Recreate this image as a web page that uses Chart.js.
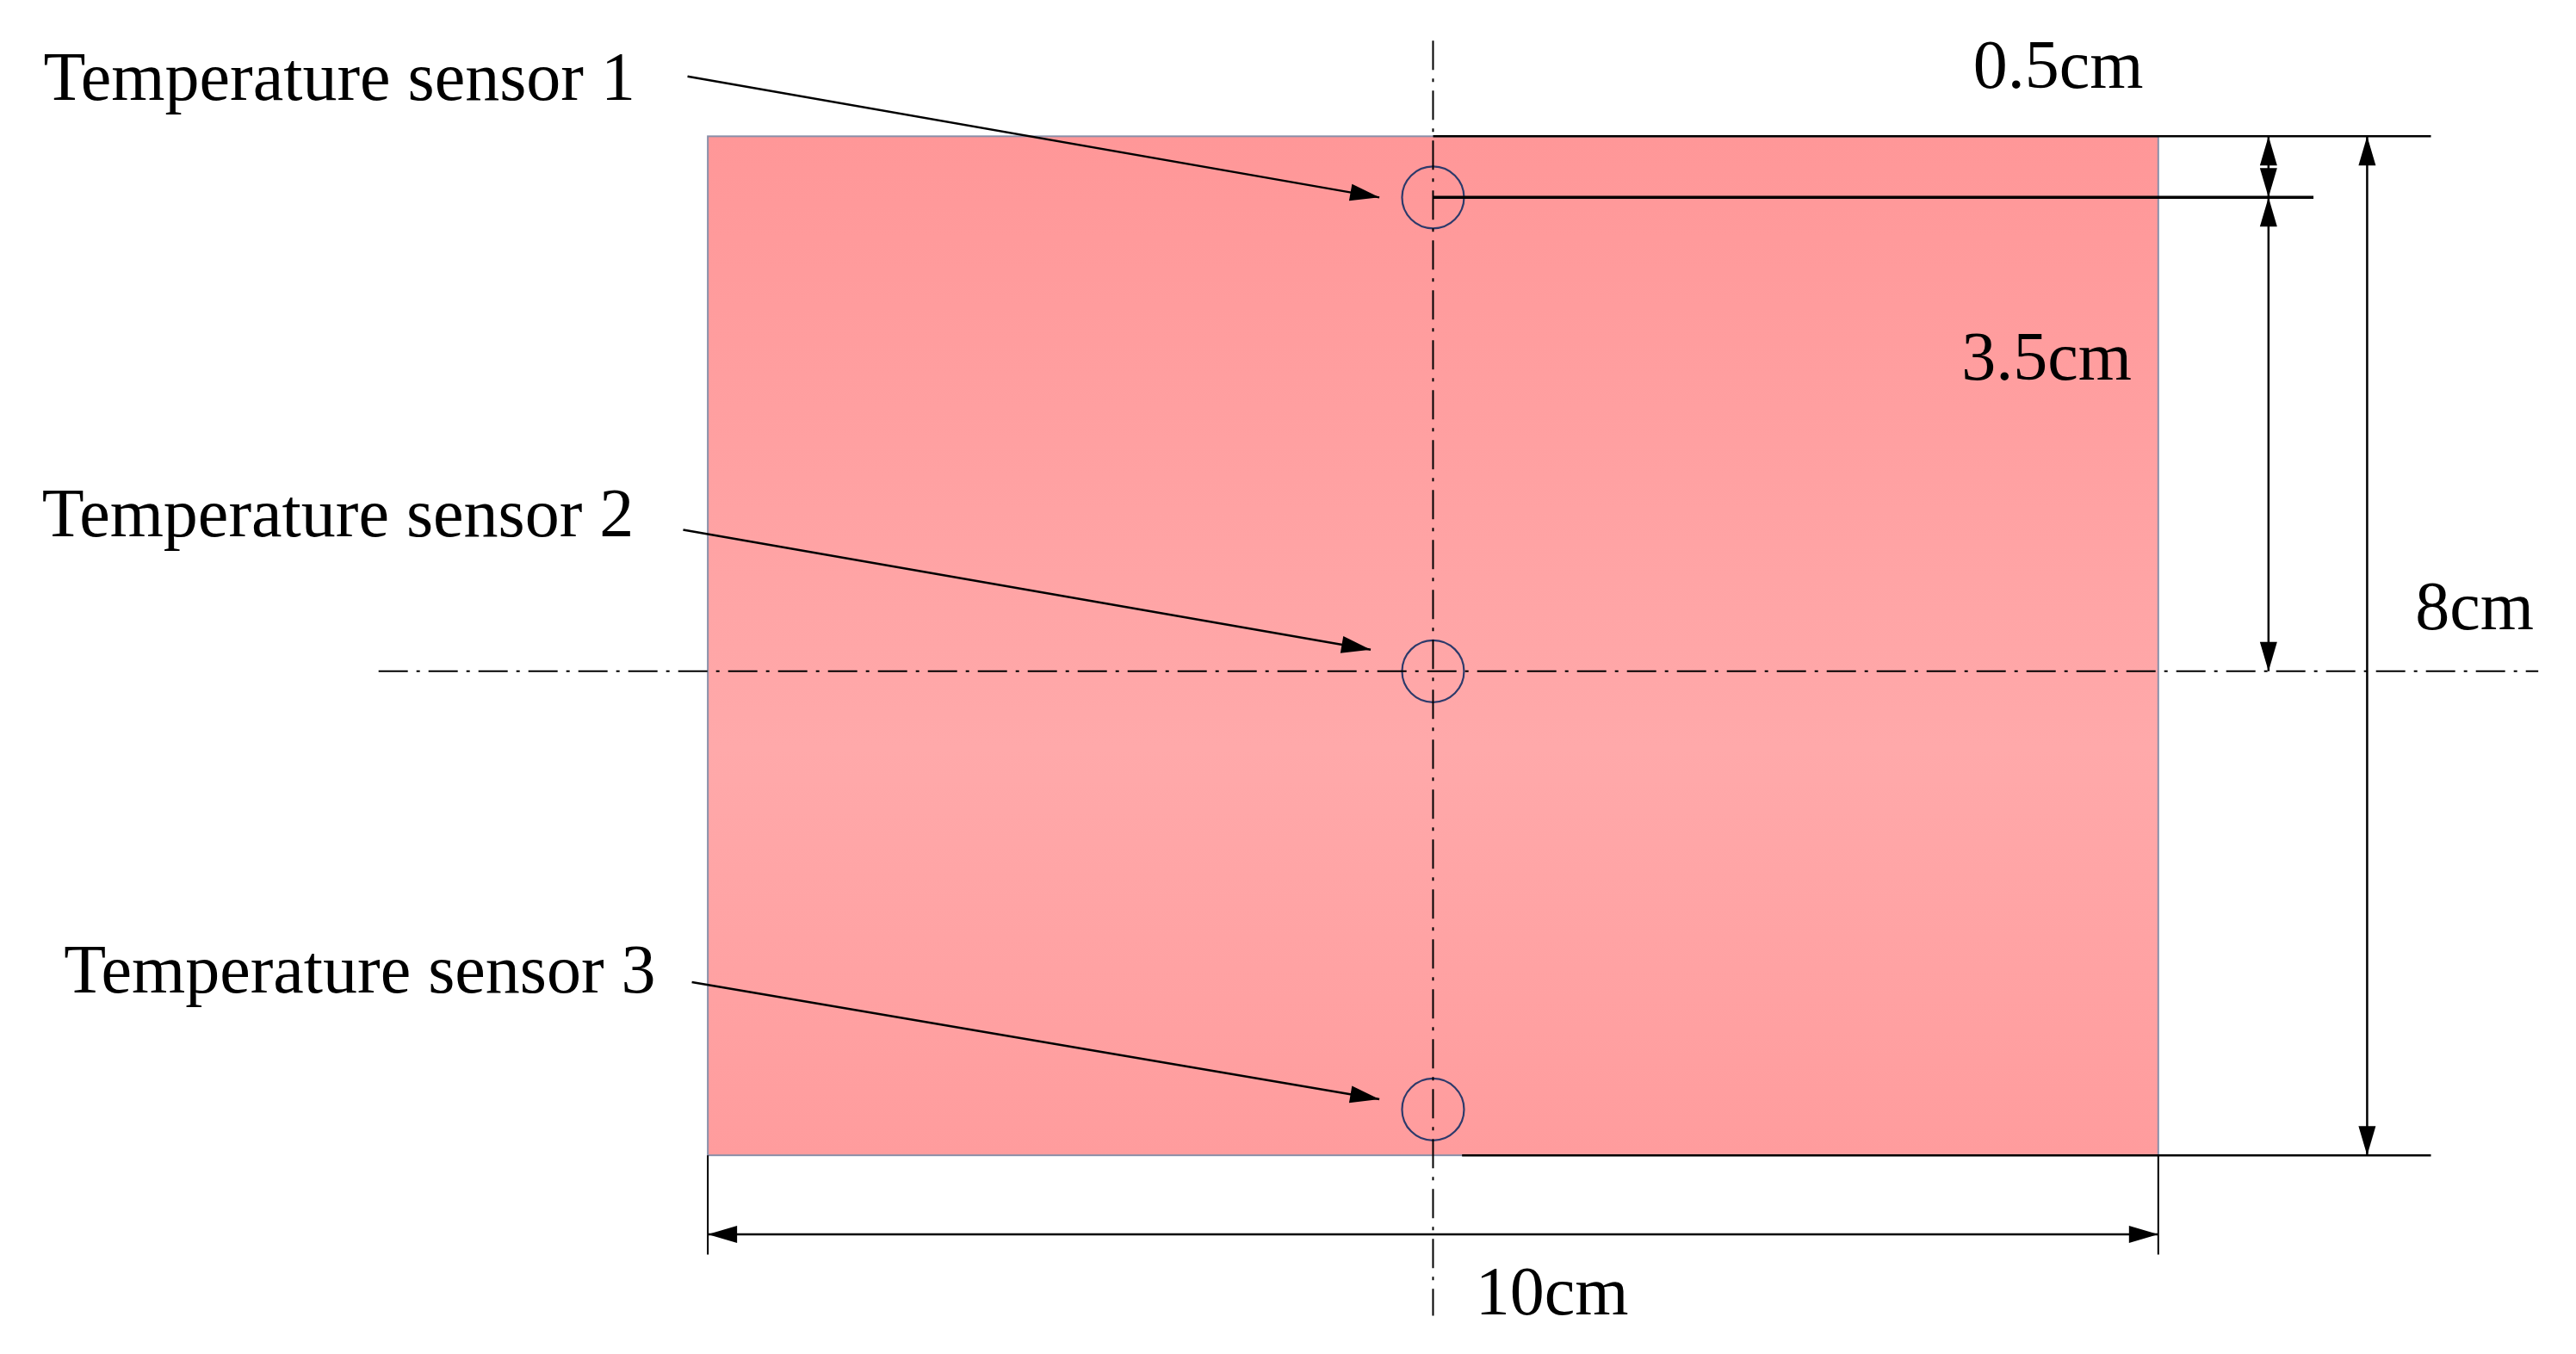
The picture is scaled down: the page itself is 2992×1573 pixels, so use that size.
<!DOCTYPE html>
<html lang="en">
<head>
<meta charset="UTF-8">
<title>Temperature sensor layout</title>
<script src="https://cdn.jsdelivr.net/npm/chart.js"></script>
<style>
  html, body { margin: 0; padding: 0; background: #fff; }
  #wrap { width: 2992px; height: 1573px; }
</style>
</head>
<body>
<div id="wrap"><canvas id="myChart"></canvas></div>
<script>
// geometry of the plate, in cm (as drawn)
const plateWidth = 10;
const plateHeight = 8;
const sensorX = 5;
const sensorDepths = [0.48, 4.2, 7.64];
const sensorLabels = ['Temperature sensor 1', 'Temperature sensor 2', 'Temperature sensor 3'];
const labelAnchors = [[-4.58, -0.43], [-4.59, 3.0], [-4.44, 6.58]];   // left / middle of each label
const leaderStarts = [[-0.14, -0.47], [-0.17, 3.09], [-0.11, 6.64]];
const leaderEnds = [[4.63, 0.48], [4.57, 4.03], [4.63, 7.56]];
const dimLabels = ['0.5cm', '3.5cm', '8cm', '10cm'];
const dimLabelPos = [[9.31, -0.52], [9.23, 1.77], [12.18, 3.73], [5.82, 9.11]];

const black = '#000';
const dashDot = [34, 10, 4, 10];
const midY = sensorDepths[1];

function seg(x1, y1, x2, y2, dash, width) {
    return {
        data: [{x: x1, y: y1}, {x: x2, y: y2}],
        showLine: true, borderColor: black, borderWidth: width || 2.5,
        borderDash: dash || [], pointRadius: 0, fill: false
    };
}

const datasets = [
    seg(sensorX, -0.75, sensorX, 9.26, dashDot, 2),
    seg(-2.27, midY, 12.62, midY, dashDot, 2),
    seg(sensorX, 0, 11.88, 0),
    seg(5.2, plateHeight, 11.88, plateHeight),
    seg(sensorX, sensorDepths[0], 11.07, sensorDepths[0], [], 3.5),
    seg(10.76, 0, 10.76, midY),
    seg(11.44, 0, 11.44, plateHeight),
    seg(0, 8.62, plateWidth, 8.62),
    seg(0, plateHeight, 0, 8.78, [], 2),
    seg(plateWidth, plateHeight, plateWidth, 8.78, [], 2),
    {
        data: sensorDepths.map(d => ({x: sensorX, y: d})),
        showLine: false, pointStyle: 'circle', pointRadius: 36,
        pointBorderColor: '#2d3a6b', pointBorderWidth: 2.2,
        pointBackgroundColor: 'rgba(0,0,0,0)'
    }
];
leaderStarts.forEach((s, i) => datasets.push(seg(s[0], s[1], leaderEnds[i][0], leaderEnds[i][1])));

// arrowheads: tip point plus direction point (the line runs from dir toward tip)
const arrowHeads = [
    [[10.76, 0], [10.76, 1]], [[10.76, 0.48], [10.76, -1]], [[10.76, 0.48], [10.76, 2]], [[10.76, midY], [10.76, 2]],
    [[11.44, 0], [11.44, 2]], [[11.44, 8], [11.44, 6]],
    [[0, 8.62], [2, 8.62]], [[10, 8.62], [8, 8.62]]
];
leaderStarts.forEach((s, i) => arrowHeads.push([leaderEnds[i], s]));

const drawPlugin = {
    id: 'drawing',
    beforeDatasetsDraw(chart) {
        const {ctx, scales: {x, y}} = chart;
        const x0 = x.getPixelForValue(0), x1 = x.getPixelForValue(plateWidth);
        const y0 = y.getPixelForValue(0), y1 = y.getPixelForValue(plateHeight);
        const g = ctx.createLinearGradient(0, y0, 0, y1);
        g.addColorStop(0, '#ff9798');
        g.addColorStop(0.6, '#ffa9aa');
        g.addColorStop(1, '#ff9c9d');
        ctx.save();
        ctx.fillStyle = g;
        ctx.fillRect(x0, y0, x1 - x0, y1 - y0);
        ctx.strokeStyle = '#8a8fa8';
        ctx.lineWidth = 2;
        ctx.strokeRect(x0, y0, x1 - x0, y1 - y0);
        ctx.restore();
    },
    afterDatasetsDraw(chart) {
        const {ctx, scales: {x, y}} = chart;
        ctx.save();
        ctx.fillStyle = black;
        arrowHeads.forEach(([tip, dir]) => {
            const tx = x.getPixelForValue(tip[0]), ty = y.getPixelForValue(tip[1]);
            const dx = x.getPixelForValue(dir[0]), dy = y.getPixelForValue(dir[1]);
            const a = Math.atan2(ty - dy, tx - dx);
            const len = 34, half = 10;
            ctx.beginPath();
            ctx.moveTo(tx, ty);
            ctx.lineTo(tx - len * Math.cos(a) + half * Math.sin(a), ty - len * Math.sin(a) - half * Math.cos(a));
            ctx.lineTo(tx - len * Math.cos(a) - half * Math.sin(a), ty - len * Math.sin(a) + half * Math.cos(a));
            ctx.closePath();
            ctx.fill();
        });
        ctx.font = '80px "Liberation Serif", "Times New Roman", serif';
        ctx.textBaseline = 'middle';
        ctx.textAlign = 'left';
        sensorLabels.forEach((t, i) => {
            ctx.fillText(t, x.getPixelForValue(labelAnchors[i][0]), y.getPixelForValue(labelAnchors[i][1]));
        });
        ctx.textAlign = 'center';
        dimLabels.forEach((t, i) => {
            ctx.fillText(t, x.getPixelForValue(dimLabelPos[i][0]), y.getPixelForValue(dimLabelPos[i][1]));
        });
        ctx.restore();
    }
};

new Chart(document.getElementById('myChart'), {
    type: 'scatter',
    data: {datasets: datasets},
    options: {
        responsive: true,
        maintainAspectRatio: false,
        animation: false,
        layout: {padding: 0, autoPadding: false},
        plugins: {legend: {display: false}, tooltip: {enabled: false}},
        scales: {
            x: {type: 'linear', min: -4.88, max: 12.88, display: false},
            y: {type: 'linear', min: -1.07, max: 9.56, reverse: true, display: false}
        }
    },
    plugins: [drawPlugin]
});
</script>
</body>
</html>
